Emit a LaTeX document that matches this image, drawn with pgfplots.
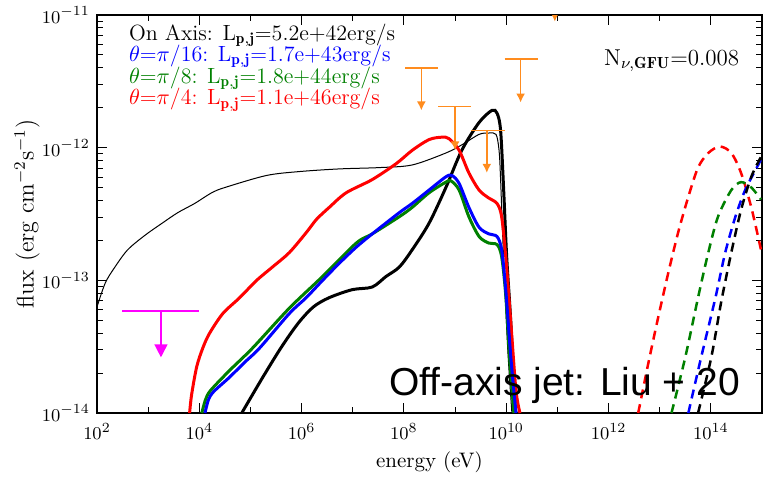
\documentclass[border=0pt]{standalone}
\usepackage{fontspec}
\newfontfamily\arialfont{Liberation Sans}
\usepackage{pgfplots}
\pgfplotsset{compat=1.18}
\usetikzlibrary{arrows.meta}
\definecolor{ulorange}{RGB}{255,140,30}
\definecolor{dgreen}{RGB}{0,128,0}
\definecolor{ulmagenta}{RGB}{255,0,255}

\begin{document}
\begin{tikzpicture}
\begin{axis}[
    xmode=log, ymode=log,
    scale only axis, width=332.5pt, height=199pt,
    xmin=1e2, xmax=1e15, ymin=1e-14, ymax=1e-11,
    xtick={1e2,1e4,1e6,1e8,1e10,1e12,1e14},
    minor xtick={1e3,1e5,1e7,1e9,1e11,1e13,1e15},
    ytick={1e-14,1e-13,1e-12,1e-11},
    minor ytick={2e-14,3e-14,4e-14,5e-14,6e-14,7e-14,8e-14,9e-14,
                 2e-13,3e-13,4e-13,5e-13,6e-13,7e-13,8e-13,9e-13,
                 2e-12,3e-12,4e-12,5e-12,6e-12,7e-12,8e-12,9e-12},
    major tick length=5pt, minor tick length=3pt,
    tick style={black, line width=0.5pt},
    axis line style={line width=0.8pt},
    xticklabel style={font=\fontsize{9.5}{9.5}\selectfont, yshift=-1.5pt},
    yticklabel style={font=\fontsize{9.5}{9.5}\selectfont},
    xlabel={energy (eV)},
    ylabel={flux (erg cm$^{-2}$s$^{-1}$)},
    every axis x label/.style={at={(axis description cs:0.5,-0.123)},anchor=center,font=\fontsize{10.5}{10.5}\selectfont},
    every axis y label/.style={at={(axis description cs:-0.105,0.5)},rotate=90,anchor=center,font=\fontsize{12}{12}\selectfont},
]
% on axis, thin
\addplot[black, line width=0.5pt, smooth] coordinates {
(1.00e2,6.31e-14)(1.45e2,9.55e-14)(2.24e2,1.26e-13)(3.98e2,1.70e-13)
(8.71e2,2.19e-13)(1.86e3,2.69e-13)(3.80e3,3.24e-13)(8.13e3,3.80e-13)
(1.74e4,4.57e-13)(3.16e4,5.01e-13)(2.04e5,6.17e-13)(9.12e5,6.61e-13)
(5.50e6,6.92e-13)(3.31e7,7.08e-13)(1.45e8,7.41e-13)(6.61e8,9.12e-13)
(1.35e9,1.05e-12)(2.95e9,1.26e-12)(4.57e9,1.29e-12)(6.31e9,1.26e-12)
(7.24e9,9.55e-13)(7.76e9,5.75e-13)(8.91e9,1.41e-13)(1.07e10,3.02e-14)
(1.29e10,1.00e-14)
};
% on axis, thick
\addplot[black, line width=1.5pt, smooth] coordinates {
(6.76e4,1.00e-14)(1.74e5,1.86e-14)(4.07e5,3.16e-14)(8.71e5,4.79e-14)
(1.70e6,6.31e-14)(3.47e6,7.41e-14)(9.77e6,8.51e-14)(2.40e7,8.91e-14)
(4.47e7,1.07e-13)(8.13e7,1.26e-13)(1.45e8,1.70e-13)(3.09e8,2.69e-13)
(6.61e8,5.01e-13)(1.35e9,9.55e-13)(2.95e9,1.55e-12)(5.25e9,1.91e-12)
(6.61e9,1.82e-12)(7.76e9,1.35e-12)(8.91e9,4.79e-13)(1.02e10,1.51e-13)
(1.23e10,4.79e-14)(1.41e10,1.48e-14)(1.55e10,1.00e-14)
};
% theta = pi/4
\addplot[red, line width=1.5pt, smooth] coordinates {
(6.46e3,1.00e-14)(7.08e3,1.38e-14)(8.91e3,2.24e-14)(1.17e4,3.09e-14)
(1.58e4,3.98e-14)(2.88e4,5.62e-14)(6.17e4,7.41e-14)(1.32e5,1.00e-13)
(2.69e5,1.26e-13)(5.75e5,1.62e-13)(1.23e6,2.29e-13)(1.95e6,2.88e-13)
(3.47e6,3.55e-13)(7.41e6,4.57e-13)(2.40e7,5.75e-13)(7.08e7,7.59e-13)
(1.45e8,9.55e-13)(3.09e8,1.15e-12)(5.50e8,1.20e-12)(7.59e8,1.17e-12)
(1.20e9,9.55e-13)(1.86e9,6.46e-13)(2.95e9,4.79e-13)(4.57e9,4.17e-13)
(6.61e9,3.80e-13)(8.13e9,3.02e-13)(9.77e9,1.51e-13)(1.23e10,4.79e-14)
(1.55e10,1.48e-14)(1.86e10,1.00e-14)
};
% theta = pi/8
\addplot[dgreen, line width=1.5pt, smooth] coordinates {
(1.12e4,1.00e-14)(1.32e4,1.26e-14)(1.66e4,1.48e-14)(3.89e4,2.09e-14)
(1.10e5,3.09e-14)(5.75e5,6.17e-14)(2.57e6,1.07e-13)(1.17e7,1.91e-13)
(2.40e7,2.24e-13)(8.13e7,3.02e-13)(1.45e8,3.55e-13)(3.09e8,4.57e-13)
(6.61e8,5.50e-13)(8.32e8,5.62e-13)(1.20e9,4.79e-13)(1.86e9,3.02e-13)
(2.95e9,2.14e-13)(4.57e9,1.91e-13)(6.61e9,1.86e-13)(8.13e9,1.51e-13)
(9.77e9,7.76e-14)(1.17e10,2.51e-14)(1.41e10,1.00e-14)
};
% theta = pi/16
\addplot[blue, line width=1.5pt, smooth] coordinates {
(1.29e4,1.00e-14)(1.51e4,1.26e-14)(1.91e4,1.45e-14)(3.89e4,1.86e-14)
(7.59e4,2.40e-14)(1.51e5,3.09e-14)(5.75e5,5.62e-14)(1.23e6,7.41e-14)
(2.57e6,1.00e-13)(5.50e6,1.35e-13)(1.17e7,1.78e-13)(2.40e7,2.24e-13)
(8.13e7,3.24e-13)(1.45e8,3.80e-13)(3.09e8,4.79e-13)(6.61e8,6.03e-13)
(8.71e8,6.17e-13)(1.20e9,5.37e-13)(1.86e9,3.55e-13)(2.95e9,2.51e-13)
(4.57e9,2.24e-13)(6.61e9,2.14e-13)(8.13e9,1.70e-13)(9.77e9,8.51e-14)
(1.23e10,2.63e-14)(1.55e10,1.00e-14)
};
% neutrino spectra (dashed)
\addplot[red, line width=1.25pt, dash pattern=on 4.5pt off 3pt, smooth] coordinates {
(3.80e12,1.00e-14)(6.03e12,2.40e-14)(9.33e12,5.25e-14)(1.48e13,1.15e-13)
(2.29e13,2.29e-13)(3.63e13,4.27e-13)(5.62e13,7.08e-13)(8.91e13,9.12e-13)
(1.51e14,1.02e-12)(2.51e14,9.12e-13)(3.89e14,6.46e-13)(6.17e14,3.55e-13)
(9.55e14,1.70e-13)
};
\addplot[dgreen, line width=1.25pt, dash pattern=on 4.5pt off 3pt, smooth] coordinates {
(1.70e13,1.00e-14)(3.16e13,2.63e-14)(5.62e13,7.41e-14)(8.91e13,1.62e-13)
(1.38e14,3.02e-13)(2.51e14,4.79e-13)(3.89e14,5.50e-13)(6.17e14,5.01e-13)
(9.55e14,4.07e-13)
};
\addplot[blue, line width=1.25pt, dash pattern=on 4.5pt off 3pt, smooth] coordinates {
(3.63e13,1.00e-14)(6.46e13,2.63e-14)(1.23e14,7.41e-14)(1.91e14,1.62e-13)
(3.02e14,3.02e-13)(4.68e14,4.79e-13)(7.41e14,6.76e-13)(9.55e14,8.13e-13)
};
\addplot[black, line width=1.25pt, dash pattern=on 4.5pt off 3pt, smooth] coordinates {
(5.62e13,1.00e-14)(1.02e14,2.63e-14)(1.58e14,6.76e-14)(2.51e14,1.62e-13)
(3.89e14,3.39e-13)(6.17e14,6.03e-13)(9.55e14,8.51e-13)
};
% gamma-ray upper limits
\addplot[ulorange, line width=0.75pt] coordinates {(1.05e8,3.98e-12)(4.68e8,3.98e-12)};
\addplot[ulorange, line width=0.75pt, -{Latex[length=4.5pt,width=4.5pt]}] coordinates {(2.19e8,3.98e-12)(2.19e8,1.91e-12)};
\addplot[ulorange, line width=0.75pt] coordinates {(4.68e8,2.04e-12)(2.04e9,2.04e-12)};
\addplot[ulorange, line width=0.75pt, -{Latex[length=4.5pt,width=4.5pt]}] coordinates {(1.00e9,2.04e-12)(1.00e9,9.55e-13)};
\addplot[ulorange, line width=0.75pt] coordinates {(2.04e9,1.35e-12)(9.33e9,1.35e-12)};
\addplot[ulorange, line width=0.75pt, -{Latex[length=4.5pt,width=4.5pt]}] coordinates {(4.17e9,1.35e-12)(4.17e9,6.46e-13)};
\addplot[ulorange, line width=0.75pt] coordinates {(9.33e9,4.68e-12)(4.17e10,4.68e-12)};
\addplot[ulorange, line width=0.75pt, -{Latex[length=4.5pt,width=4.5pt]}] coordinates {(1.91e10,4.68e-12)(1.91e10,2.19e-12)};
\addplot[ulorange, line width=0.75pt] coordinates {(4.17e10,1.86e-11)(1.91e11,1.86e-11)};
\addplot[ulorange, line width=0.75pt, -{Latex[length=4.5pt,width=4.5pt]}] coordinates {(8.91e10,1.86e-11)(8.91e10,8.91e-12)};
% X-ray upper limit
\addplot[ulmagenta, line width=0.75pt] coordinates {(3.09e2,5.89e-14)(9.77e3,5.89e-14)};
\addplot[ulmagenta, line width=0.75pt, -{Triangle[length=6.5pt,width=6.5pt]}] coordinates {(1.78e3,5.89e-14)(1.78e3,2.63e-14)};
% annotations
\node[anchor=base west, font=\fontsize{11}{11}\selectfont, black] at (axis description cs:0.0376,0.937) {On Axis: L$_{\mathbf{p,j}}$=5.2e+42erg/s};
\node[anchor=base west, font=\fontsize{11}{11}\selectfont, blue] at (axis description cs:0.0376,0.884) {$\theta$=$\pi$/16: L$_{\mathbf{p,j}}$=1.7e+43erg/s};
\node[anchor=base west, font=\fontsize{11}{11}\selectfont, dgreen] at (axis description cs:0.0376,0.829) {$\theta$=$\pi$/8: L$_{\mathbf{p,j}}$=1.8e+44erg/s};
\node[anchor=base west, font=\fontsize{11}{11}\selectfont, red] at (axis description cs:0.0376,0.774) {$\theta$=$\pi$/4: L$_{\mathbf{p,j}}$=1.1e+46erg/s};
\node[anchor=base west, font=\fontsize{11.5}{11.5}\selectfont] at (axis description cs:0.752,0.874) {N$_{\nu,\mathbf{GFU}}$=0.008};
\node[anchor=base west, font=\arialfont\fontsize{19.5}{19.5}\selectfont] at (axis description cs:0.4286,0.045) {Off-axis jet: Liu + 20};
\end{axis}
\pgfresetboundingbox
\useasboundingbox ([xshift=-48.5pt,yshift=-32pt]current axis.south west) rectangle ([xshift=1pt,yshift=7.5pt]current axis.north east);
\end{tikzpicture}
\end{document}
